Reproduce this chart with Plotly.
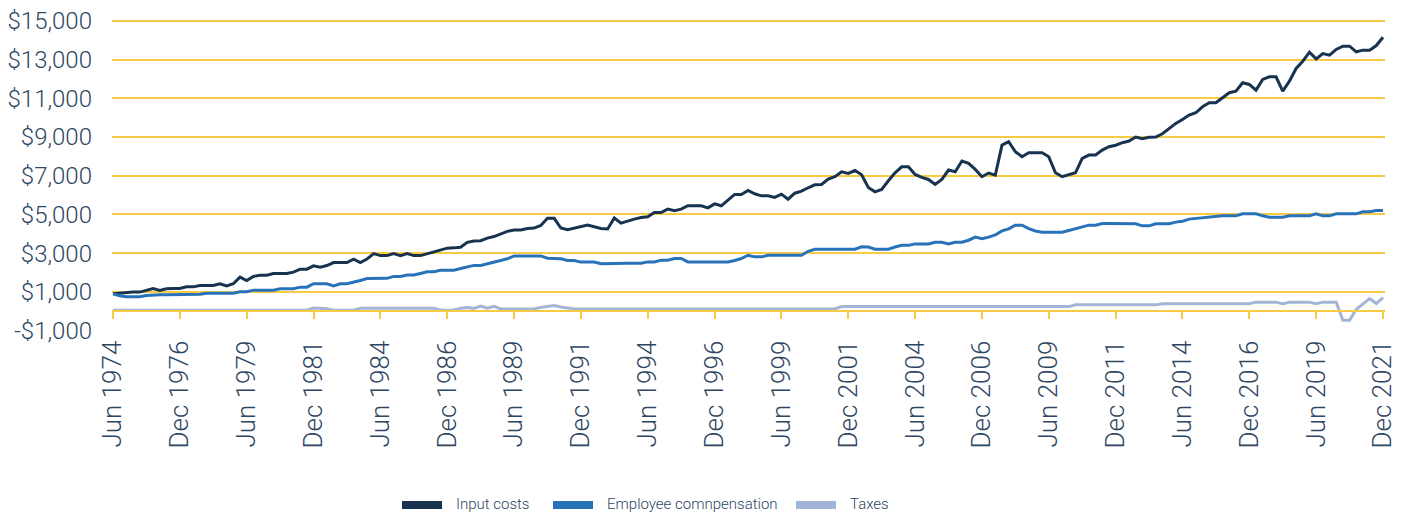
import pandas as pd
import plotly.graph_objects as go

# Quarterly categories, Jun 1974 .. Dec 2021
quarters = [d.strftime("%b %Y") for d in pd.date_range("1974-06-30", "2021-12-31", freq="QE")]

input_costs = [
    900, 935, 990, 990, 990, 1090, 1175, 1070, 1160, 1175,
    1175, 1260, 1260, 1330, 1330, 1330, 1420, 1310, 1420, 1760,
    1590, 1800, 1865, 1865, 1950, 1950, 1950, 2020, 2175, 2175,
    2345, 2280, 2360, 2515, 2515, 2515, 2690, 2520, 2700, 2975,
    2875, 2875, 2975, 2875, 2975, 2875, 2875, 2975, 3075, 3175,
    3260, 3275, 3310, 3560, 3630, 3645, 3780, 3860, 4010, 4130,
    4200, 4200, 4280, 4300, 4430, 4800, 4800, 4300, 4215, 4300,
    4380, 4450, 4365, 4280, 4250, 4820, 4550, 4670, 4760, 4845,
    4880, 5100, 5100, 5275, 5190, 5275, 5450, 5450, 5450, 5345,
    5550, 5450, 5760, 6035, 6035, 6240, 6070, 5965, 5965, 5880,
    6050, 5790, 6100, 6205, 6380, 6535, 6550, 6830, 6950, 7205,
    7120, 7270, 7050, 6395, 6170, 6290, 6740, 7155, 7465, 7465,
    7070, 6915, 6810, 6550, 6810, 7295, 7205, 7760, 7640, 7330,
    6950, 7140, 7035, 8585, 8760, 8240, 7980, 8190, 8190, 8190,
    7980, 7155, 6950, 7050, 7155, 7900, 8070, 8070, 8330, 8500,
    8580, 8710, 8795, 9000, 8915, 8985, 9000, 9170, 9445, 9705,
    9910, 10135, 10255, 10565, 10770, 10770, 11030, 11290, 11375, 11805,
    11720, 11425, 11975, 12115, 12115, 11375, 11890, 12545, 12920, 13385,
    13040, 13315, 13230, 13525, 13695, 13695, 13405, 13490, 13490, 13730,
    14160,
]

employee_compensation = [
    900, 800, 750, 750, 750, 815, 850, 850, 850, 850,
    850, 850, 850, 880, 930, 930, 930, 930, 930, 1005,
    1005, 1090, 1090, 1090, 1090, 1160, 1160, 1160, 1245, 1245,
    1420, 1420, 1420, 1310, 1420, 1420, 1490, 1590, 1690, 1700,
    1700, 1700, 1800, 1800, 1870, 1870, 1955, 2040, 2040, 2120,
    2120, 2120, 2205, 2290, 2370, 2370, 2455, 2540, 2625, 2710,
    2860, 2860, 2860, 2860, 2860, 2740, 2740, 2710, 2625, 2625,
    2540, 2540, 2540, 2455, 2470, 2470, 2480, 2480, 2480, 2480,
    2550, 2550, 2640, 2640, 2725, 2725, 2550, 2550, 2550, 2550,
    2550, 2550, 2550, 2620, 2725, 2895, 2810, 2810, 2895, 2895,
    2895, 2895, 2895, 2895, 3100, 3205, 3205, 3205, 3205, 3205,
    3205, 3205, 3330, 3320, 3210, 3210, 3210, 3320, 3405, 3405,
    3480, 3480, 3480, 3565, 3565, 3480, 3565, 3565, 3670, 3830,
    3745, 3830, 3940, 4150, 4255, 4450, 4450, 4270, 4150, 4080,
    4080, 4080, 4080, 4170, 4270, 4375, 4450, 4450, 4530, 4530,
    4530, 4520, 4520, 4520, 4415, 4415, 4520, 4520, 4520, 4605,
    4655, 4760, 4795, 4860, 4860, 4930, 4930, 4930, 4930, 5035,
    5035, 5035, 4930, 4860, 4860, 4860, 4930, 4930, 4930, 4930,
    5035, 4930, 4930, 5035, 5035, 5035, 5035, 5140, 5140, 5205,
    5205,
]

taxes = [
    50, 50, 50, 50, 50, 50, 50, 50, 50, 50,
    50, 50, 50, 50, 50, 50, 50, 50, 50, 50,
    50, 50, 50, 50, 50, 50, 50, 50, 50, 50,
    165, 165, 130, 50, 50, 50, 50, 150, 150, 150,
    150, 150, 150, 150, 150, 150, 150, 150, 150, 60,
    40, 70, 150, 190, 150, 270, 160, 250, 120, 120,
    120, 120, 120, 120, 200, 250, 300, 220, 150, 120,
    120, 120, 120, 120, 120, 120, 120, 120, 120, 120,
    120, 120, 120, 120, 120, 120, 120, 120, 120, 120,
    120, 120, 120, 120, 120, 120, 120, 120, 120, 120,
    120, 120, 120, 120, 120, 120, 120, 120, 120, 240,
    240, 240, 240, 240, 240, 240, 240, 240, 240, 240,
    240, 240, 240, 240, 240, 240, 240, 240, 240, 240,
    240, 240, 240, 240, 240, 240, 240, 240, 240, 240,
    240, 240, 240, 240, 330, 330, 330, 330, 330, 330,
    330, 330, 330, 330, 330, 330, 330, 385, 385, 385,
    385, 385, 385, 385, 385, 385, 385, 385, 385, 385,
    385, 470, 470, 470, 470, 380, 470, 470, 470, 470,
    390, 470, 470, 470, -470, -470, 100, 400, 650, 400,
    700,
]

series_names = ["Input costs", "Employee comnpensation", "Taxes"]
series_colors = ["#17334f", "#2872ba", "#a3b5d7"]

y_tick_vals = [-1000, 1000, 3000, 5000, 7000, 9000, 11000, 13000, 15000]
y_tick_text = ["-$1,000", "$1,000", "$3,000", "$5,000", "$7,000", "$9,000", "$11,000", "$13,000", "$15,000"]

x_idx = list(range(len(quarters)))
x_tick_vals = x_idx[::10]
x_tick_text = quarters[::10]

FONT = "Roboto, 'Liberation Sans', Arial, sans-serif"
TEXT = "#2e4662"
GOLD = "#f8cb45"

# the page body has an 8px margin, so the figure is drawn 8px smaller
OFF = 8
W, H = 1404 - OFF, 517 - OFF
ML, MR, MT, MB = 112 - OFF, 19, 19 - OFF, 186
PW, PH = W - ML - MR, H - MT - MB


def px_x(p):
    return (p - OFF - ML) / PW


def px_y(p):
    return (H - MB - (p - OFF)) / PH


fig = go.Figure()
for name, vals, col in zip(series_names, [input_costs, employee_compensation, taxes], series_colors):
    fig.add_trace(go.Scatter(x=x_idx, y=vals, mode="lines", name=name,
                             line=dict(color=col, width=3), showlegend=False,
                             hoverinfo="skip"))

# custom legend: thick swatch + label (page pixel positions)
legend_swatch_left = [402, 553, 796]
shapes, annotations = [], []
for name, col, sx in zip(series_names, series_colors, legend_swatch_left):
    shapes.append(dict(type="rect", xref="paper", yref="paper",
                       x0=px_x(sx), x1=px_x(sx + 40), y0=px_y(509), y1=px_y(501),
                       fillcolor=col, line=dict(width=0)))
    annotations.append(dict(text=name, xref="paper", yref="paper",
                            x=px_x(sx + 52), y=px_y(504), xanchor="left", yanchor="middle",
                            showarrow=False,
                            font=dict(family=FONT, size=15, color=TEXT, weight=300)))

y_min, y_max = -1020, 15100
zero_pos = (0 - y_min) / (y_max - y_min)

fig.update_layout(
    width=W, height=H,
    margin=dict(l=ML, r=MR, t=MT, b=MB),
    paper_bgcolor="white", plot_bgcolor="white",
    font=dict(family=FONT, color=TEXT, weight=300),
    showlegend=False,
    shapes=shapes, annotations=annotations,
    xaxis=dict(range=[-0.15, 190.3], tickmode="array", tickvals=x_tick_vals,
               ticktext=x_tick_text, tickangle=-90,
               tickfont=dict(family=FONT, size=26, color=TEXT, weight=300),
               showgrid=False, zeroline=False,
               showline=True, linecolor=GOLD, linewidth=2,
               ticks="outside", ticklen=7, tickwidth=2, tickcolor=GOLD,
               anchor="free", position=zero_pos, ticklabelstandoff=11,
               ticklabeloverflow="allow", automargin=False),
    yaxis=dict(range=[y_min, y_max], tickmode="array", tickvals=y_tick_vals,
               ticktext=y_tick_text,
               tickfont=dict(family=FONT, size=24, color=TEXT, weight=300),
               showgrid=True, gridcolor=GOLD, gridwidth=2,
               zeroline=False, showline=False, ticks="", ticklabelstandoff=19,
               ticklabeloverflow="allow", automargin=False),
)

fig.write_html("out.html")
